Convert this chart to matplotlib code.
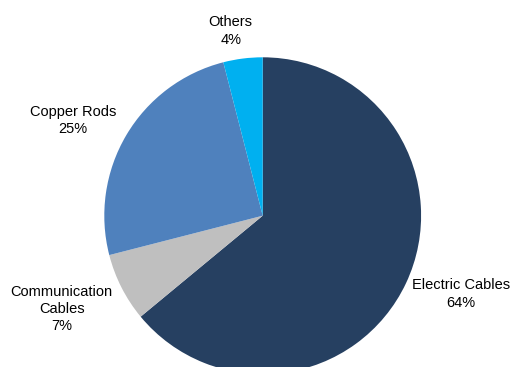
import matplotlib
matplotlib.use("Agg")
import matplotlib.pyplot as plt

categories = ["Electric Cables", "Communication\nCables", "Copper Rods", "Others"]
shares = [64, 7, 25, 4]
colors = ["#264061", "#BFBFBF", "#4F81BD", "#00B0F0"]

W, H = 511, 367
plt.rcParams['font.family'] = ['Liberation Sans Narrow', 'Liberation Sans', 'DejaVu Sans']

fig = plt.figure(figsize=(W / 100, H / 100), dpi=100)
ax = fig.add_axes([0, 0, 1, 1])

cx, cy, r = 262.7, H - 215.7, 158.4
wedges, _ = ax.pie(shares, colors=colors, startangle=90, counterclock=False,
                   center=(cx, cy), radius=r, frame=True,
                   wedgeprops=dict(linewidth=0))
ax.set_xlim(0, W)
ax.set_ylim(0, H)
ax.set_aspect('equal')
ax.axis('off')

# label anchors (image pixel coords) and horizontal alignment
label_pos = [(510, 294, 'right'), (61.7, 309, 'center'), (73, 120.5, 'center'), (230.7, 31, 'center')]
for name, val, (lx, ly, ha) in zip(categories, shares, label_pos):
    ax.text(lx, H - ly, f"{name}\n{val}%", ha=ha, va='center',
            fontsize=10.5, linespacing=1.3, color='#000000', multialignment='center')

fig.savefig("out.png", dpi=100)
